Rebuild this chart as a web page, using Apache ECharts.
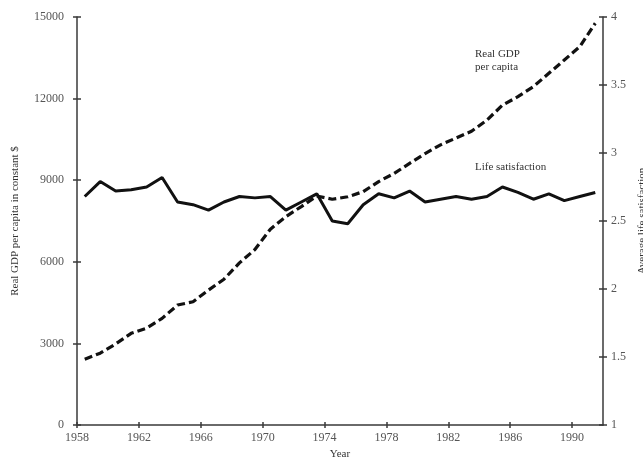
<!DOCTYPE html>
<html><head><meta charset="utf-8">
<script src="https://cdn.jsdelivr.net/npm/echarts@6/dist/echarts.min.js"></script>
<style>html,body{margin:0;padding:0;background:#fff}#c{width:643px;height:467px}</style>
</head><body><div id="c"></div>
<script>
const years = ['1958','1959','1960','1961','1962','1963','1964','1965','1966','1967','1968','1969',
  '1970','1971','1972','1973','1974','1975','1976','1977','1978','1979',
  '1980','1981','1982','1983','1984','1985','1986','1987','1988','1989','1990','1991'];
const gdpPerCapita = [2420,2640,2980,3370,3560,3920,4410,4530,4960,5360,5960,6450,
  7200,7660,8030,8420,8300,8390,8580,8950,9250,9620,
  9980,10300,10550,10800,11210,11760,12070,12440,12930,13420,13910,14770];
const lifeSatisfaction = [2.68,2.79,2.72,2.73,2.75,2.82,2.64,2.62,2.58,2.64,2.68,2.67,
  2.68,2.58,2.64,2.70,2.50,2.48,2.62,2.70,2.67,2.72,
  2.64,2.66,2.68,2.66,2.68,2.75,2.71,2.66,2.70,2.65,2.68,2.71];
const xTickLabels = [1958,1962,1966,1970,1974,1978,1982,1986,1990];
const gdpTicks = [0,3000,6000,9000,12000,15000];
const lifeTicks = [1,1.5,2,2.5,3,3.5,4];

const FONT = 'Liberation Serif';
const AX = '#3a3a3a';
const LBL = '#555';
const plain = v => String(v);

const chart = echarts.init(document.getElementById('c'), null, {renderer:'canvas'});
chart.setOption({
  animation: false,
  backgroundColor: '#fff',
  textStyle: {fontFamily: FONT},
  grid: {left: 77, right: 40, top: 17, bottom: 42, containLabel: false, outerBoundsMode: 'none'},
  xAxis: [
    {type:'category', data: years, boundaryGap: true, show: false},
    {type:'value', min: 1958, max: 1992, position:'bottom',
     name:'Year', nameLocation:'middle', nameGap: 20,
     nameTextStyle:{fontFamily:FONT, fontSize:11, color:'#333'},
     axisLine:{show:true, onZero:false, lineStyle:{color:AX, width:1.5}},
     axisTick:{show:true, inside:false, length:3, customValues: xTickLabels, lineStyle:{color:AX, width:1.5}},
     axisLabel:{customValues: xTickLabels, formatter: plain, margin:7, fontFamily:FONT, fontSize:12, color:LBL},
     splitLine:{show:false}},
    {type:'value', min: 1958, max: 1992, position:'bottom',
     axisLine:{show:false},
     axisTick:{show:true, inside:true, length:3, customValues: xTickLabels, lineStyle:{color:AX, width:1.5}},
     axisLabel:{show:false}, splitLine:{show:false}}
  ],
  yAxis: [
    {type:'value', min:0, max:15000, position:'left',
     name:'Real GDP per capita in constant $', nameLocation:'middle', nameGap:56, nameRotate:90,
     nameTextStyle:{fontFamily:FONT, fontSize:11, color:'#333'},
     axisLine:{show:true, lineStyle:{color:AX, width:1.5}},
     axisTick:{show:true, inside:false, length:4, customValues: gdpTicks, lineStyle:{color:AX, width:1.5}},
     axisLabel:{customValues: gdpTicks, formatter: plain, margin:13, fontFamily:FONT, fontSize:12, color:LBL},
     splitLine:{show:false}},
    {type:'value', min:1, max:4, position:'right',
     name:'Average life satisfaction', nameLocation:'middle', nameGap:33, nameRotate:90,
     nameTextStyle:{fontFamily:FONT, fontSize:11, color:'#333', verticalAlign:'top'},
     axisLine:{show:true, lineStyle:{color:AX, width:1.5}},
     axisTick:{show:true, inside:false, length:4, customValues: lifeTicks, lineStyle:{color:AX, width:1.5}},
     axisLabel:{customValues: lifeTicks, formatter: plain, margin:8, fontFamily:FONT, fontSize:12, color:LBL},
     splitLine:{show:false}},
    {type:'value', min:0, max:15000, position:'left',
     axisLine:{show:false},
     axisTick:{show:true, inside:true, length:4, customValues: gdpTicks, lineStyle:{color:AX, width:1.5}},
     axisLabel:{show:false}, splitLine:{show:false}},
    {type:'value', min:1, max:4, position:'right',
     axisLine:{show:false},
     axisTick:{show:true, inside:true, length:4, customValues: lifeTicks, lineStyle:{color:AX, width:1.5}},
     axisLabel:{show:false}, splitLine:{show:false}}
  ],
  graphic: [
    {type:'text', left:475, top:48, style:{text:'Real GDP\nper capita', fontFamily:FONT, fontSize:11, lineHeight:13, fill:'#333'}},
    {type:'text', left:475, top:162, style:{text:'Life satisfaction', fontFamily:FONT, fontSize:11, fill:'#333'}}
  ],
  series: [
    {name:'Real GDP per capita', type:'line', xAxisIndex:0, yAxisIndex:0, data: gdpPerCapita,
     showSymbol:false, smooth:false,
     lineStyle:{color:'#111', width:3.2, type:[8,4], cap:'butt'}},
    {name:'Life satisfaction', type:'line', xAxisIndex:0, yAxisIndex:1, data: lifeSatisfaction,
     showSymbol:false, smooth:false,
     lineStyle:{color:'#111', width:3}}
  ]
});
</script>
</body></html>
